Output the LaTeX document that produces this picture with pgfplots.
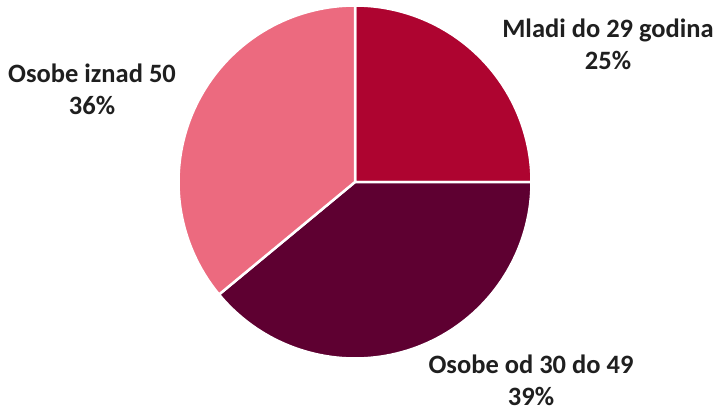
\documentclass[border=0pt]{standalone}
\usepackage{fontspec}
\setmainfont{Carlito}
\usepackage{pgfplots}
\usepackage{pgfplotstable}
\pgfplotsset{compat=1.18}
\definecolor{cA}{HTML}{AE0430}
\definecolor{cB}{HTML}{5E0031}
\definecolor{cC}{HTML}{EC6A7F}
% start and end angles derived from shares 25, 39, 36 (percent of 360 deg), clockwise from top
\pgfplotstableread{
name share start end
A 25 90 0
B 39 0 -140.4
C 36 -140.4 -270
}\pietable
\begin{document}
\begin{tikzpicture}
\begin{axis}[
  hide axis, scale only axis,
  width=718pt, height=408pt,
  xmin=0, xmax=718, ymin=0, ymax=408,
  clip=false,
]
\addplot[fill=cA, draw=white, line width=2.5pt, domain=90:0, samples=60, variable=\t]
  ({355+176.5*cos(\t)},{226+176.5*sin(\t)}) -- (axis cs:355,226) -- cycle;
\addplot[fill=cB, draw=white, line width=2.5pt, domain=0:-140.4, samples=80, variable=\t]
  ({355+176.5*cos(\t)},{226+176.5*sin(\t)}) -- (axis cs:355,226) -- cycle;
\addplot[fill=cC, draw=white, line width=2.5pt, domain=-140.4:-270, samples=80, variable=\t]
  ({355+176.5*cos(\t)},{226+176.5*sin(\t)}) -- (axis cs:355,226) -- cycle;
\node[inner sep=0pt, align=center, font=\bfseries\fontsize{26.5}{32}\selectfont, text=black!88] at (axis cs:608,364) {Mladi do 29 godina\\25\%};
\node[inner sep=0pt, align=center, font=\bfseries\fontsize{26.5}{32}\selectfont, text=black!88] at (axis cs:92,319) {Osobe iznad 50\\36\%};
\node[inner sep=0pt, align=center, font=\bfseries\fontsize{26.5}{32}\selectfont, text=black!88] at (axis cs:531,28) {Osobe od 30 do 49\\39\%};
\end{axis}
\pgfresetboundingbox
\path[use as bounding box] (0,0) rectangle (718pt,408pt);
\end{tikzpicture}
\end{document}
